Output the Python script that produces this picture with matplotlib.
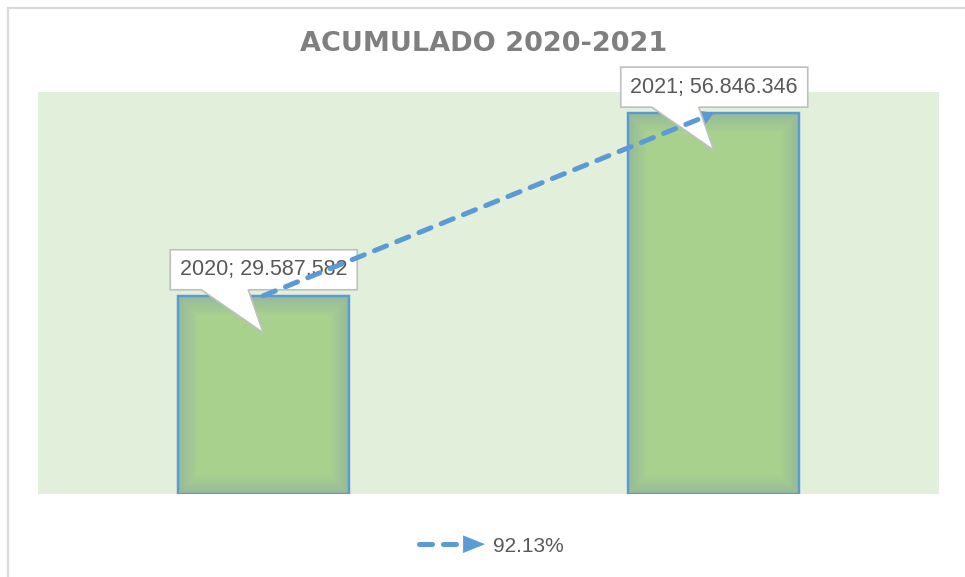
import numpy as np
import matplotlib
matplotlib.use("Agg")
import matplotlib.pyplot as plt
from matplotlib.patches import Rectangle, Polygon
from matplotlib.lines import Line2D
from matplotlib.legend_handler import HandlerBase

# --- data ---
years = ["2020", "2021"]
totals = [29587582, 56846346]
title = "ACUMULADO 2020-2021"

growth = totals[1] / totals[0] - 1
growth_label = f"{growth * 100:.2f}%"


def fmt_es(v):
    return f"{v:,}".replace(",", ".")


BAR_GREEN = "#A9D18E"
BG_GREEN = "#E2EFDA"
BLUE = "#5B9BD5"
TXT = "#595959"
DASH = (0, (2.6, 2.2))

W, H, DPI = 965, 577, 100
fig = plt.figure(figsize=(W / DPI, H / DPI), dpi=DPI)
ax = fig.add_axes([38 / W, (H - 494) / H, (939 - 38) / W, (494 - 92) / H])
ax.set_facecolor(BG_GREEN)
for s in ax.spines.values():
    s.set_visible(False)
ax.set_xticks([])
ax.set_yticks([])

x = np.arange(len(years))
ax.set_xlim(-0.5, len(years) - 0.5)
ax.set_ylim(0, 60000000)

bars = ax.bar(x, totals, width=0.38, color=BAR_GREEN, edgecolor=BLUE,
              linewidth=1.6, zorder=2)

# soft inner glow on bars
for b in bars:
    for lw in [26, 22, 18, 14, 10, 7, 4]:
        r = Rectangle(b.get_xy(), b.get_width(), b.get_height(), fill=False,
                      ec="#7FA2B0", lw=lw, alpha=0.07, zorder=2.5)
        ax.add_patch(r)
        r.set_clip_path(b)
    ax.add_patch(Rectangle(b.get_xy(), b.get_width(), b.get_height(),
                           fill=False, ec=BLUE, lw=1.6, zorder=2.6))

fig.canvas.draw()
to_fig = fig.transFigure.inverted()

# --- callout labels (offsets in pixels from bar top, y down) ---
box_l, box_r, box_t, box_b = -93, 94, -46, -6
ptr_l, ptr_r, tip = -62, -15, (0, 37)


def px(ax_pt, dx, dy):
    return to_fig.transform((ax_pt[0] + dx, ax_pt[1] - dy))


for xi, yr, val in zip(x, years, totals):
    anchor = ax.transData.transform((xi, val))
    verts = [px(anchor, box_l, box_t), px(anchor, box_r, box_t),
             px(anchor, box_r, box_b), px(anchor, ptr_r, box_b),
             px(anchor, *tip), px(anchor, ptr_l, box_b),
             px(anchor, box_l, box_b)]
    poly = Polygon(verts, closed=True, transform=fig.transFigure, fc="white",
                   ec="#BFBFBF", lw=1.2, zorder=4)
    fig.add_artist(poly)
    cx, cy = px(anchor, (box_l + box_r) / 2, (box_t + box_b) / 2)
    fig.text(cx, cy, f"{yr}; {fmt_es(val)}", ha="center", va="center",
             fontsize=15.5, color=TXT, family="Liberation Sans", zorder=5)

# --- dashed growth arrow between bar tops ---
p0 = np.array([x[0], totals[0]], dtype=float)
p1 = np.array([x[1], totals[1]], dtype=float)
pm = p0 + 0.97 * (p1 - p0)
line = Line2D([p0[0], pm[0]], [p0[1], pm[1]], color=BLUE, lw=3.6,
              ls=DASH, dash_capstyle="round", zorder=6)
fig.add_artist(line)
line.set_transform(ax.transData)
ax.annotate("", xy=p1, xytext=pm, zorder=6, annotation_clip=False,
            arrowprops=dict(arrowstyle="-|>,head_length=0.9,head_width=0.55",
                            color=BLUE, lw=0.1, shrinkA=0, shrinkB=0,
                            mutation_scale=14))


# --- legend ---
class ArrowHandler(HandlerBase):
    def create_artists(self, legend, orig, xd, yd, width, height, fontsize, trans):
        yc = height / 2 - yd
        ln = Line2D([-xd + 2, -xd + width - 12], [yc, yc], color=BLUE, lw=3.6,
                    ls=DASH, dash_capstyle="round", transform=trans)
        head = Polygon([[-xd + width - 14, yc - 6], [-xd + width + 1, yc],
                        [-xd + width - 14, yc + 6]], closed=True, fc=BLUE,
                       ec=BLUE, lw=0.5, transform=trans)
        return [ln, head]


handle = Line2D([], [], color=BLUE)
fig.legend([handle], [growth_label], handler_map={handle: ArrowHandler()},
           loc="center", bbox_to_anchor=(490 / W, 1 - 546 / H), frameon=False,
           prop={"family": "Liberation Sans", "size": 15},
           labelcolor=TXT, handlelength=3.2, handletextpad=0.5)

fig.text(484 / W, 1 - 44 / H, title, ha="center", va="center",
         fontsize=19.5, fontweight="bold", color="#7F7F7F", family="DejaVu Sans")

# outer chart border (partly cropped)
fig.add_artist(Rectangle((8 / W, -0.05), 1.0, 1 - 8 / H + 0.05,
                         transform=fig.transFigure, fill=False,
                         ec="#D9D9D9", lw=1.6))

fig.savefig("out.png", dpi=DPI)
